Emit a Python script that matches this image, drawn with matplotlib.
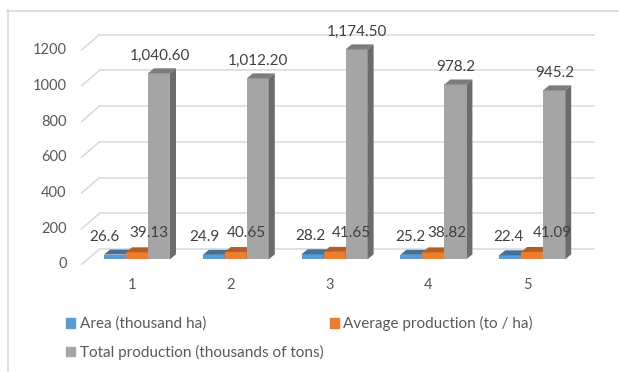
import matplotlib.pyplot as plt
from matplotlib.patches import Polygon, Rectangle
from matplotlib.lines import Line2D

plt.rcParams['font.family'] = ['Lato', 'DejaVu Sans']

categories = ['1', '2', '3', '4', '5']
area = [26.6, 24.9, 28.2, 25.2, 22.4]
avg_production = [39.13, 40.65, 41.65, 38.82, 41.09]
total_production = [1040.60, 1012.20, 1174.50, 978.2, 945.2]
y_ticks = [0, 200, 400, 600, 800, 1000, 1200]
series_names = ['Area (thousand ha)', 'Average production (to / ha)',
                'Total production (thousands of tons)']

# front, top, side colours for each series
palette = [('#5b9bd5', '#41719c', '#3d6a94'),
           ('#ed7d31', '#b45e25', '#a9561f'),
           ('#a5a5a5', '#7c7c7c', '#6b6b6b')]

W, H = 619, 372
fig = plt.figure(figsize=(W / 100, H / 100), dpi=100)
ax = fig.add_axes([0, 0, 1, 1])

# scale: one category step and value units per pixel
PX = 1 / 98.8
VPX = 5.595
X0, Y0 = 137, 259.3
ax.set_xlim(-X0 * PX, (W - X0) * PX)
ax.set_ylim(-(H - Y0) * VPX, Y0 * VPX)
ax.axis('off')

bar_w = 22 * PX
ddx, ddy = 6 * PX, 5 * VPX            # bar depth
front_dx, front_dy = -6 * PX, -5.2 * VPX   # floor front edge
back_dx, back_dy = 12 * PX, 10.3 * VPX     # back wall
n = len(categories)
grid_c = '#d9d9d9'
text_c = '#595959'

# back wall gridlines with the short slanted piece on the side wall
for v in y_ticks:
    xl_f = -0.5 + front_dx
    xl_b = -0.5 + back_dx
    xr_b = n - 0.5 + back_dx
    ax.plot([xl_f, xl_b], [v + front_dy, v + back_dy], color=grid_c, lw=1.1, zorder=1)
    ax.plot([xl_b, xr_b], [v + back_dy] * 2, color=grid_c, lw=1.1, zorder=1)
    ax.text(xl_f - 15 * PX, v + front_dy, str(v), ha='right', va='center',
            fontsize=10.5, color=text_c)

for i, c in enumerate(categories):
    ax.text(i - 5 * PX, -(285 - Y0) * VPX, c, ha='center', va='center',
            fontsize=10.5, color=text_c)

series = [area, avg_production, total_production]
xs = list(range(n))
for k, vals in enumerate(series):
    front, top, side = palette[k]
    centers = [x + (k - 1) * bar_w for x in xs]
    ax.bar(centers, vals, width=bar_w, color=front, zorder=3 + k, linewidth=0)
    for xc, v in zip(centers, vals):
        l, r = xc - bar_w / 2, xc + bar_w / 2
        ax.add_patch(Polygon([(l, v), (r, v), (r + ddx, v + ddy), (l + ddx, v + ddy)],
                             closed=True, facecolor=top, lw=0, zorder=3 + k))
        ax.add_patch(Polygon([(r, 0), (r, v), (r + ddx, v + ddy), (r + ddx, ddy)],
                             closed=True, facecolor=side, lw=0, zorder=3 + k))


def fmt(v):
    return '{:,.2f}'.format(v) if v >= 1000 else '{:g}'.format(v)


# data label offsets in pixels (x shift, height above bar)
label_dx = [[-10.5, -9.5, -2, -1.4, -2],
            [11.5, 11, 17, 14, 20],
            [0.5, 0.5, 0.5, 0.5, 0.5]]
label_dy = [17.8, 19, 17.5]
for k, vals in enumerate(series):
    for i, v in enumerate(vals):
        ax.annotate(fmt(v), (i + (k - 1) * bar_w, v),
                    xytext=(label_dx[k][i] * 0.72, label_dy[k] * 0.72),
                    textcoords='offset points', ha='center', va='center',
                    fontsize=11, color='#404040', zorder=10)

# chart area border (left and top edges)
fig.add_artist(Line2D([7.5 / W, 7.5 / W], [0, 1 - 10 / H], color=grid_c, lw=1.2))
fig.add_artist(Line2D([7 / W, 1], [1 - 10.5 / H] * 2, color=grid_c, lw=1.2))

handles = [Rectangle((0, 0), 1, 1, color=palette[k][0]) for k in range(3)]
order = [0, 2, 1]
fig.legend([handles[k] for k in order], [series_names[k] for k in order],
           ncol=2, loc='upper left', bbox_to_anchor=(66 / W, 1 - 316 / H),
           frameon=False, fontsize=11, labelcolor=text_c,
           handlelength=0.6, handleheight=0.6, handletextpad=0.3,
           labelspacing=0.9, columnspacing=0.4, borderpad=0, borderaxespad=0)

fig.savefig('out.png', dpi=100)
